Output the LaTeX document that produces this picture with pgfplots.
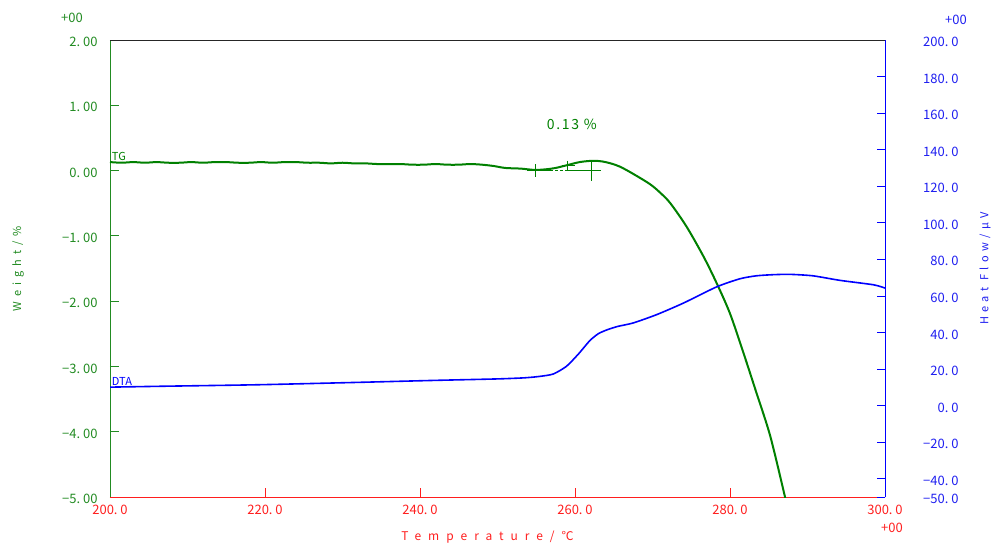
\documentclass[border=0pt]{standalone}
\usepackage{fontspec}
\setmainfont{Noto Sans CJK JP}
\newfontfamily\lsT{Noto Sans CJK JP}[LetterSpace=58]
\newfontfamily\lsW{Noto Sans CJK JP}[LetterSpace=45]
\newfontfamily\lsH{Noto Sans CJK JP}[LetterSpace=40]
\newfontfamily\lsP{Noto Sans CJK JP}[LetterSpace=12]
\usepackage{pgfplots}
\pgfplotsset{compat=1.18}
\definecolor{tggreen}{RGB}{0,128,0}
\definecolor{lblgreen}{RGB}{34,139,34}
\definecolor{dtablue}{RGB}{0,0,255}
\definecolor{lblblue}{RGB}{30,30,240}
\definecolor{axred}{RGB}{255,30,30}
\newcommand{\tf}{\fontsize{13bp}{15bp}\selectfont}
\newcommand{\dsp}{\hspace{0.22em}}
\begin{document}
\begin{tikzpicture}
\useasboundingbox (-110bp,-47bp) rectangle (882bp,497bp);
\begin{axis}[
  at={(0,0)}, anchor=south west, scale only axis,
  width=775bp, height=457bp,
  xmin=200, xmax=300, ymin=-5, ymax=2,
  axis x line*=bottom, axis y line*=left,
  tick align=inside, major tick length=9bp,
  x axis line style={axred, line width=0.9bp},
  y axis line style={lblgreen, line width=0.9bp},
  xtick={200,220,240,260,280,300},
  xticklabels={200.\dsp0,220.\dsp0,240.\dsp0,260.\dsp0,280.\dsp0,300.\dsp0},
  ytick={-5,-4,-3,-2,-1,0,1,2},
  yticklabels={−5.\dsp00,−4.\dsp00,−3.\dsp00,−2.\dsp00,−1.\dsp00,0.\dsp00,1.\dsp00,2.\dsp00},
  xtick style={axred, line width=0.8bp},
  ytick style={lblgreen, line width=0.8bp},
  xticklabel style={text=axred, font=\tf, yshift=-5bp},
  yticklabel style={text=lblgreen, font=\tf, xshift=-9bp, yshift=-2bp},
  clip mode=individual,
]
% TG curve
\addplot[tggreen, line width=2bp, smooth, tension=0.5] coordinates {
(200,0.13) (201.5,0.12) (203,0.13) (204.5,0.12) (206,0.13) (207.5,0.12) (209,0.12)
(210.5,0.13) (212,0.12) (213.5,0.13) (215,0.13) (216.5,0.12) (218,0.12) (219.5,0.13)
(221,0.12) (222.5,0.13) (224,0.13) (225.5,0.12) (227,0.12) (228.5,0.11) (230,0.12)
(231.5,0.11) (233,0.11) (234.5,0.10) (236,0.10) (237.5,0.10) (239,0.09) (240.5,0.09)
(242,0.10) (243.5,0.09) (245,0.09) (246.5,0.10) (248,0.09) (249.5,0.07) (251,0.04)
(253,0.03) (254.8,0.01) (256.3,0.02) (257.5,0.04) (258.9,0.08) (260.6,0.13)
(262.3,0.15) (263.5,0.14) (264.6,0.11) (265.8,0.06) (267.5,-0.05) (269.7,-0.21)
(271.0,-0.34) (272.3,-0.50) (274.4,-0.86) (276.6,-1.32) (278.3,-1.73) (280.0,-2.19)
(281.7,-2.78) (283.4,-3.40) (285.2,-4.07) (287.1,-5.0) (287.5,-5.2)
};
% onset construction
\addplot[tggreen, line width=0.6bp, densely dashed] coordinates {(254.9,0.0) (262.1,0.0)};
\addplot[tggreen, line width=0.8bp] coordinates {(253.8,0.0) (256.8,0.0)};
\addplot[tggreen, line width=0.8bp] coordinates {(259.0,0.0) (263.2,0.0)};
\addplot[tggreen, line width=0.8bp] coordinates {(258.3,0.075) (260.0,0.075)};
\addplot[tggreen, only marks, mark=+, mark size=6.5bp, mark options={line width=0.9bp}] coordinates {(254.9,0.0)};
\addplot[tggreen, only marks, mark=+, mark size=5bp, mark options={line width=0.9bp}] coordinates {(259.0,0.075)};
\addplot[tggreen, only marks, mark=+, mark size=10bp, mark options={line width=0.9bp}] coordinates {(262.1,0.0)};
\node[text=tggreen, font=\fontsize{14bp}{16bp}\lsP] at (axis cs:259.6,0.70) {0.13 \%};
\node[text=tggreen, font=\fontsize{11bp}{12bp}\selectfont, anchor=south west, inner sep=1bp] at (axis cs:200.1,0.14) {TG};
% extra labels
\node[text=lblgreen, font=\tf, xshift=-38bp, yshift=22bp] at (rel axis cs:0,1) {+00};
\node[text=axred, font=\tf, xshift=7bp, yshift=-31bp] at (rel axis cs:1,0) {+00};
\node[text=axred, font=\fontsize{12bp}{14bp}\lsT, xshift=-10bp, yshift=-40bp] at (rel axis cs:0.5,0) {Temperature/℃};
\node[text=lblgreen, font=\fontsize{11bp}{13bp}\lsW, rotate=90, yshift=92bp] at (rel axis cs:0,0.5) {Weight/\%};
\end{axis}
\begin{axis}[
  at={(0,0)}, anchor=south west, scale only axis,
  width=775bp, height=457bp,
  xmin=200, xmax=300, ymin=-50, ymax=200,
  axis x line=none, axis y line*=right,
  tick align=inside, major tick length=8bp,
  y axis line style={dtablue, line width=0.9bp},
  ytick={-50,-40,-20,0,20,40,60,80,100,120,140,160,180,200},
  yticklabels={−50.\dsp0,−40.\dsp0,−20.\dsp0,0.\dsp0,20.\dsp0,40.\dsp0,60.\dsp0,80.\dsp0,100.\dsp0,120.\dsp0,140.\dsp0,160.\dsp0,180.\dsp0,200.\dsp0},
  ytick style={dtablue, line width=0.8bp},
  yticklabel style={text=lblblue, font=\tf, anchor=east, xshift=77bp, yshift=-2bp},
  clip mode=individual,
]
\addplot[dtablue, line width=1.6bp, smooth, tension=0.4] coordinates {
(200,10.1) (207,10.6) (219,11.4) (231,12.6) (242,13.8) (250,14.6) (253.5,15.2)
(255.5,16.0) (257.2,17.3) (258.9,21.5) (260.5,28.5) (261.9,35.5) (263,39.3)
(264.1,41.4) (265.5,43.3) (267.5,45.2) (270.5,49.7) (274,56.1) (278.3,65.0)
(281.3,69.4) (283.4,71.0) (285.5,71.6) (287.7,71.8) (290.7,71.0) (294.2,68.5)
(298.5,66.1) (300,64.3)
};
\node[text=dtablue, font=\fontsize{11bp}{12bp}\selectfont, anchor=south west, inner sep=1bp] at (axis cs:200.1,10.5) {DTA};
\draw[black!85, line width=0.9bp] (rel axis cs:0,1) -- (rel axis cs:1,1);
\node[text=lblblue, font=\tf, xshift=71bp, yshift=20bp] at (rel axis cs:1,1) {+00};
\node[text=lblblue, font=\fontsize{11bp}{13bp}\lsH, rotate=90, yshift=-100bp] at (rel axis cs:1,0.5) {Heat Flow/μV};
\end{axis}
\end{tikzpicture}
\end{document}
